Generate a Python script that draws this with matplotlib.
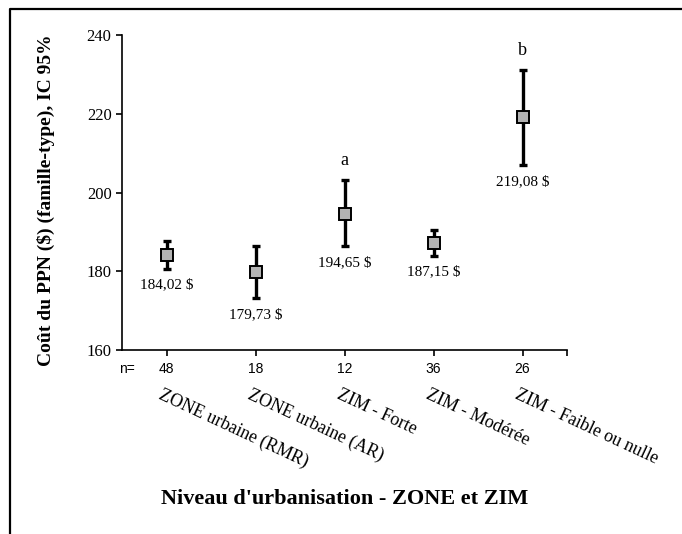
import matplotlib
matplotlib.use('Agg')
import matplotlib.pyplot as plt
from matplotlib.lines import Line2D

# Coût moyen du PPN par niveau d'urbanisation, avec IC 95 %
categories = ['ZONE urbaine (RMR)', 'ZONE urbaine (AR)', 'ZIM - Forte',
              'ZIM - Modérée', 'ZIM - Faible ou nulle']
n_values = [48, 18, 12, 36, 26]
means = [184.02, 179.73, 194.65, 187.15, 219.08]
ci_low = [180.7, 173.1, 186.3, 184.0, 207.1]
ci_high = [187.6, 186.5, 203.3, 190.6, 231.2]
letters = ['', '', 'a', '', 'b']
value_labels = ['184,02 $', '179,73 $', '194,65 $', '187,15 $', '219,08 $']

SERIF = 'Liberation Serif'
SANS = 'Liberation Sans'

fig = plt.figure(figsize=(6.82, 5.34), dpi=100)
ax = fig.add_axes([0.1789, 0.3445, 0.6525, 0.590])

x = list(range(len(categories)))
yerr = [[m - lo for m, lo in zip(means, ci_low)],
        [hi - m for m, hi in zip(means, ci_high)]]

ax.errorbar(x, means, yerr=yerr, fmt='none', ecolor='black',
            elinewidth=2.4, capsize=3.0, capthick=2.4, zorder=2)
ax.plot(x, means, 's', markersize=8, markerfacecolor='#b3b3b3',
        markeredgecolor='black', markeredgewidth=1.4, zorder=3)

for xi, hi, lo, lab, let in zip(x, ci_high, ci_low, value_labels, letters):
    ax.annotate(lab, (xi, lo), xytext=(0, -12), textcoords='offset points',
                ha='center', va='center', fontsize=11, family=SERIF)
    if let:
        ax.annotate(let, (xi, hi), xytext=(0, 14), textcoords='offset points',
                    ha='center', va='center', fontsize=13, family=SERIF)

ax.set_xlim(-0.5, 4.5)
ax.set_ylim(160, 240)
ax.set_yticks([160, 180, 200, 220, 240])
ax.set_xticks(x + [4.5])
ax.set_xticklabels([])
for s in ['top', 'right']:
    ax.spines[s].set_visible(False)
for s in ['left', 'bottom']:
    ax.spines[s].set_linewidth(1.2)
ax.tick_params(axis='both', direction='out', length=4, width=1.2)
for t in ax.get_yticklabels():
    t.set_family(SERIF)
    t.set_fontsize(12)

# ligne des effectifs sous l'axe
trans = ax.get_xaxis_transform()
ax.text(-0.44, -0.060, 'n=', transform=trans, ha='center', va='center',
        fontsize=10, family=SANS)
for xi, n in zip(x, n_values):
    ax.text(xi, -0.060, str(n), transform=trans, ha='center',
            va='center', fontsize=10, family=SANS)

# étiquettes de catégories inclinées
for xi, cat in zip(x, categories):
    ax.text(xi - 0.035, -0.114, cat, transform=trans, ha='left', va='top',
            rotation=-25, rotation_mode='anchor', fontsize=13, family=SERIF)

fig.text(46 / 682, 1 - 200 / 534, "Coût du PPN ($) (famille-type), IC 95%",
         rotation=90, ha='center', va='center', fontsize=14,
         fontweight='bold', family=SERIF)
fig.text(345 / 682, 1 - 499 / 534, "Niveau d'urbanisation - ZONE et ZIM",
         ha='center', va='center', fontsize=16, fontweight='bold', family=SERIF)

# cadre de la figure
fig.add_artist(Line2D([10 / 682, 10 / 682, 1.0], [0.0, 1 - 9 / 534, 1 - 9 / 534],
                      transform=fig.transFigure, color='black', linewidth=1.6))

fig.savefig('out.png', dpi=100)
